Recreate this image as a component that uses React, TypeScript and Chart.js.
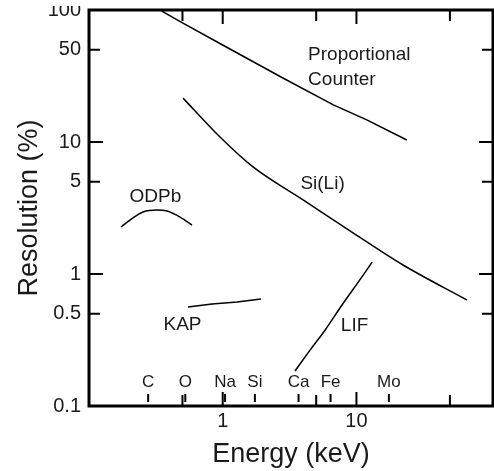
import React, { useEffect, useRef } from "react";
import { Chart, registerables } from "chart.js";

Chart.register(...registerables);

// ---- data (energy in keV, resolution in %) ----
const propE = [0.35, 0.508, 0.902, 1.6, 2.84, 6.72, 11.94, 23.8];
const propR = [98.2, 79.3, 57.5, 41.8, 30.4, 19.1, 14.7, 10.35];

const siliE = [0.505, 0.954, 1.685, 3.99, 9.43, 22.3, 67.2];
const siliR = [21.5, 10.9, 6.47, 3.64, 2.05, 1.17, 0.635];

const odpbE = [0.1735, 0.2134, 0.2535, 0.323, 0.383, 0.48, 0.589];
const odpbR = [2.27, 2.66, 2.95, 3.05, 3.0, 2.7, 2.35];

const kapE = [0.55, 0.832, 1.28, 1.93];
const kapR = [0.562, 0.592, 0.613, 0.647];

const lifE = [3.47, 4.5, 5.82, 7.8, 10.6, 13.1];
const lifR = [0.184, 0.265, 0.375, 0.582, 0.902, 1.23];

const xTickValues = [0.5, 1, 5, 10, 50];
const xTickLabels = ["", "1", "", "10", ""];
const yTickValues = [0.1, 0.5, 1, 5, 10, 50, 100];
const yTickLabels = ["0.1", "0.5", "1", "5", "10", "50", "100"];

const elementNames = ["C", "O", "Na", "Si", "Ca", "Fe", "Mo"];
const elementEnergies = [0.277, 0.525, 1.041, 1.74, 3.69, 6.404, 17.48];

const noteTexts = ["Proportional", "Counter", "Si(Li)", "ODPb", "KAP", "LIF"];
const noteE = [4.35, 4.35, 5.58, 0.314, 0.5, 9.68];
const noteR = [45.6, 29.5, 4.81, 3.83, 0.414, 0.404];
const noteAlign = ["left", "left", "center", "center", "center", "center"];

const FONT = "'Liberation Sans', Arial, Helvetica, sans-serif";
const TEXT = "#1a1a1a";

const toPts = (xs: number[], ys: number[]) => xs.map((x, i) => ({ x, y: ys[i] }));

const framePlugin = {
  id: "frame",
  afterDraw(chart: any) {
    const { ctx, chartArea } = chart;
    const { left, right, top, bottom } = chartArea;
    const xs = chart.scales.x;
    const ys = chart.scales.y;
    ctx.save();
    ctx.strokeStyle = "#000";
    // inward tick marks
    ctx.lineWidth = 2;
    xTickValues.forEach((v) => {
      const px = xs.getPixelForValue(v);
      const len = Math.abs(Math.log10(v) - Math.round(Math.log10(v))) < 1e-6 ? 14 : 11;
      ctx.beginPath();
      ctx.moveTo(px, bottom);
      ctx.lineTo(px, bottom - len);
      ctx.moveTo(px, top);
      ctx.lineTo(px, top + len);
      ctx.stroke();
    });
    yTickValues.forEach((v) => {
      const py = ys.getPixelForValue(v);
      const len = Math.abs(Math.log10(v) - Math.round(Math.log10(v))) < 1e-6 ? 14 : 11;
      ctx.beginPath();
      ctx.moveTo(left, py);
      ctx.lineTo(left + len, py);
      ctx.moveTo(right, py);
      ctx.lineTo(right - len, py);
      ctx.stroke();
    });
    // element marks
    ctx.fillStyle = TEXT;
    ctx.font = `17px ${FONT}`;
    ctx.textAlign = "center";
    ctx.textBaseline = "middle";
    elementEnergies.forEach((e, i) => {
      const px = xs.getPixelForValue(e);
      ctx.beginPath();
      ctx.moveTo(px, bottom - 4);
      ctx.lineTo(px, bottom - 12);
      ctx.stroke();
      ctx.fillText(elementNames[i], px, bottom - 24);
    });
    // curve labels
    ctx.font = `19px ${FONT}`;
    noteTexts.forEach((t, i) => {
      ctx.textAlign = noteAlign[i] as CanvasTextAlign;
      ctx.fillText(t, xs.getPixelForValue(noteE[i]), ys.getPixelForValue(noteR[i]));
    });
    // frame
    ctx.lineWidth = 3;
    ctx.strokeRect(left, top, right - left, bottom - top);
    // top crop of the original figure
    ctx.fillStyle = "#fff";
    ctx.fillRect(0, 0, chart.width, 6);
    ctx.restore();
  },
};

export default function App() {
  const ref = useRef<HTMLCanvasElement | null>(null);
  useEffect(() => {
    if (!ref.current) return;
    const mk = (xs: number[], ys: number[], smooth: boolean) => ({
      data: toPts(xs, ys),
      borderColor: "#000",
      borderWidth: 1.5,
      pointRadius: 0,
      tension: 0,
      cubicInterpolationMode: smooth ? "monotone" : "default",
      fill: false,
    });
    const chart = new Chart(ref.current, {
      type: "line",
      data: {
        datasets: [
          mk(propE, propR, false),
          mk(siliE, siliR, true),
          mk(odpbE, odpbR, true),
          mk(kapE, kapR, false),
          mk(lifE, lifR, true),
        ],
      },
      options: {
        animation: false,
        responsive: false,
        events: [],
        layout: { padding: { left: 0, right: 1, top: 10, bottom: 0 } },
        plugins: { legend: { display: false }, tooltip: { enabled: false } },
        scales: {
          x: {
            type: "logarithmic",
            min: 0.1,
            max: 105,
            grid: { display: false, drawTicks: false },
            border: { display: false },
            afterBuildTicks: (s: any) => {
              s.ticks = xTickValues.map((v) => ({ value: v }));
            },
            afterFit: (s: any) => {
              s.height = 65;
              s.paddingLeft = 0;
              s.paddingRight = 0;
            },
            ticks: {
              autoSkip: false,
              maxRotation: 0,
              padding: 3,
              color: TEXT,
              font: { family: FONT, size: 20 },
              callback: (v: any) => {
                const i = xTickValues.indexOf(Number(v));
                return i >= 0 ? xTickLabels[i] : "";
              },
            },
            title: {
              display: true,
              text: "Energy (keV)",
              color: TEXT,
              font: { family: FONT, size: 27 },
              padding: { top: 0, bottom: 0 },
            },
          },
          y: {
            type: "logarithmic",
            min: 0.1,
            max: 100,
            grid: { display: false, drawTicks: false },
            border: { display: false },
            afterBuildTicks: (s: any) => {
              s.ticks = yTickValues.map((v) => ({ value: v }));
            },
            afterFit: (s: any) => {
              s.width = 89;
              s.paddingTop = 0;
              s.paddingBottom = 0;
            },
            ticks: {
              autoSkip: false,
              padding: 8,
              color: TEXT,
              font: { family: FONT, size: 20 },
              callback: (v: any) => {
                const i = yTickValues.indexOf(Number(v));
                return i >= 0 ? yTickLabels[i] : "";
              },
            },
            title: {
              display: true,
              text: "Resolution (%)",
              color: TEXT,
              font: { family: FONT, size: 27 },
              padding: { top: 13, bottom: 0 },
            },
          },
        },
      },
      plugins: [framePlugin],
    } as any);
    return () => chart.destroy();
  }, []);
  return (
    <div style={{ position: "absolute", left: 0, top: 0, width: 494, height: 471, background: "#fff" }}>
      <canvas ref={ref} width={494} height={471} style={{ display: "block" }} />
    </div>
  );
}
